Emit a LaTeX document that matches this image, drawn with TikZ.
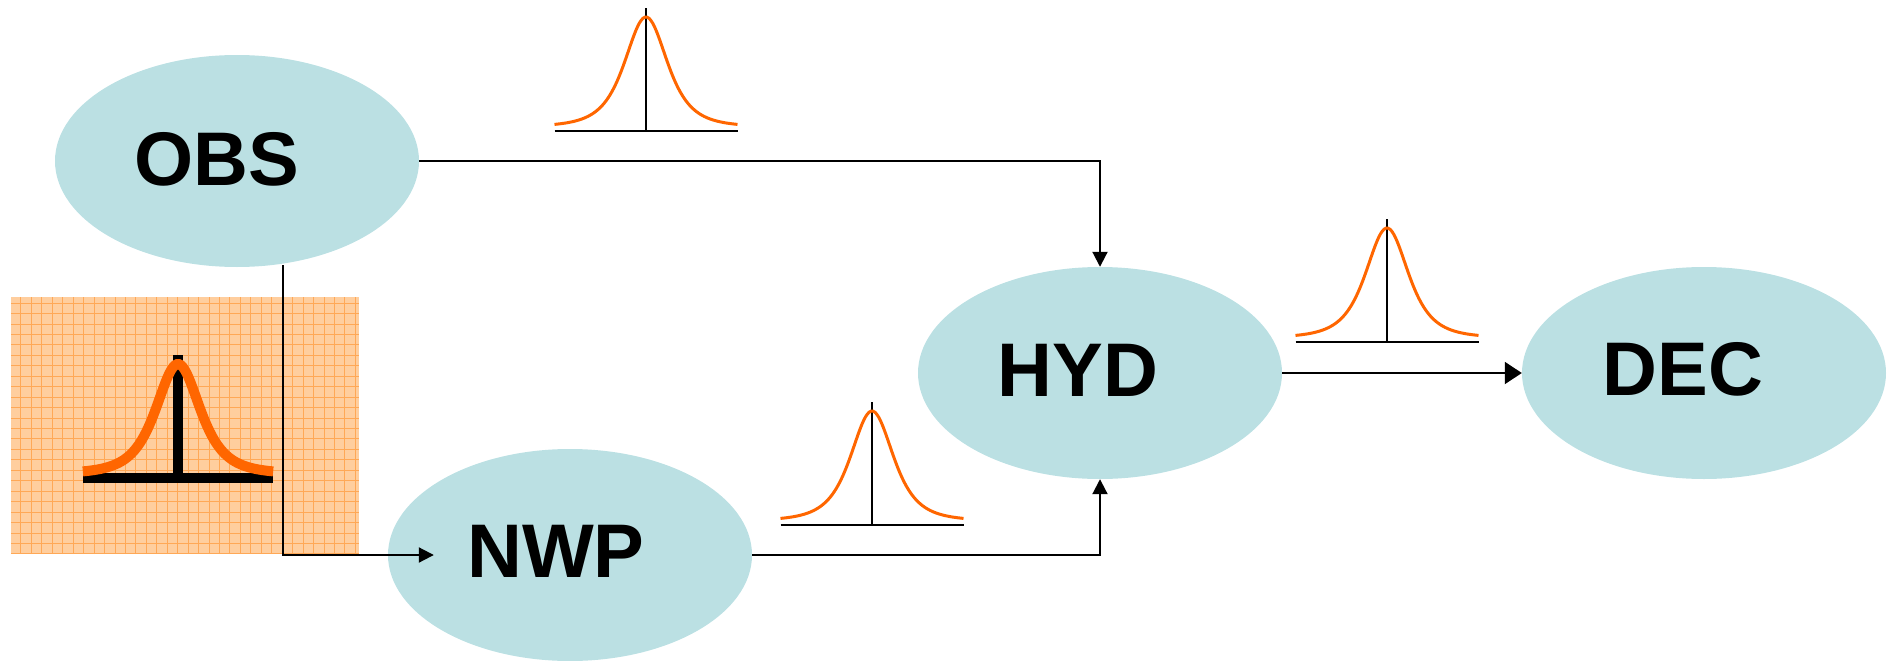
\documentclass[tikz,border=0pt]{standalone}
\usepackage{fontspec}
\setmainfont{Liberation Sans}
\usetikzlibrary{arrows.meta,calc,shapes.geometric}

\definecolor{bubble}{RGB}{187,224,227}
\definecolor{curve}{RGB}{255,102,0}
\definecolor{gridfill}{RGB}{255,206,158}
\definecolor{gridline}{RGB}{255,168,86}

\tikzset{
  stage/.style={ellipse, fill=bubble, minimum width=364pt, minimum height=212pt, inner sep=0pt},
  stagelabel/.style={font=\fontsize{76}{80}\selectfont\bfseries, anchor=base, inner sep=0pt},
  flow/.style={line width=2pt, -{Triangle[length=15pt,width=15pt]}},
  bigflow/.style={line width=2pt, -{Triangle[length=17pt,width=22pt]}},
  pics/bell/.style 2 args={code={
    \draw[line width=#1] (-91.5,0) -- (91.5,0);
    \draw[line width=#1] (0,0) -- (0,-123);
    \draw[curve, line width=#2] plot[domain=-91.5:91.5, samples=100, smooth]
      (\x, {-(4+110/((1+(\x/39)^2)^2))});
  }},
}

\begin{document}
\begin{tikzpicture}[x=1pt, y=-1pt]
  \useasboundingbox (0,0) rectangle (1888,661);

  % process stages
  \node[stage] (obs) at (237,161) {};
  \node[stage] (hyd) at (1100,373) {};
  \node[stage] (dec) at (1704,373) {};
  \node[stage] (nwp) at (570,555) {};

  \node[stagelabel] (obst) at (217,185) {OBS};
  \node[stagelabel] (hydt) at (1078,396) {HYD};
  \node[stagelabel] (dect) at (1683,395) {DEC};
  \node[stagelabel] (nwpt) at (556,577) {NWP};

  % gridded panel with the heavy distribution
  \fill[gridfill] (11,297) rectangle (359,554);
  \draw[gridline, line width=0.9pt] (11,297) grid[step=10.45pt] (359,554);
  \pic[xscale=1.04] at (178,478) {bell={10pt}{10pt}};

  % connectors
  \coordinate (tap) at (283,265);
  \coordinate (nwpin) at ($(nwp.west)+(46,0)$);
  \draw[flow] (obs.east) -- (obs.east -| hyd.north) -- (hyd.north);
  \draw[flow] (tap) -- (tap |- nwp) -- (nwpin);
  \draw[flow] (nwp.east) -- (nwp.east -| hyd.south) -- (hyd.south);
  \draw[bigflow] (hyd.east) -- (dec.west);

  % small distributions along the flows
  \pic at (646,131) {bell={2.5pt}{3pt}};
  \pic at (1387,342) {bell={2.5pt}{3pt}};
  \pic at (872,525) {bell={2.5pt}{3pt}};
\end{tikzpicture}
\end{document}
